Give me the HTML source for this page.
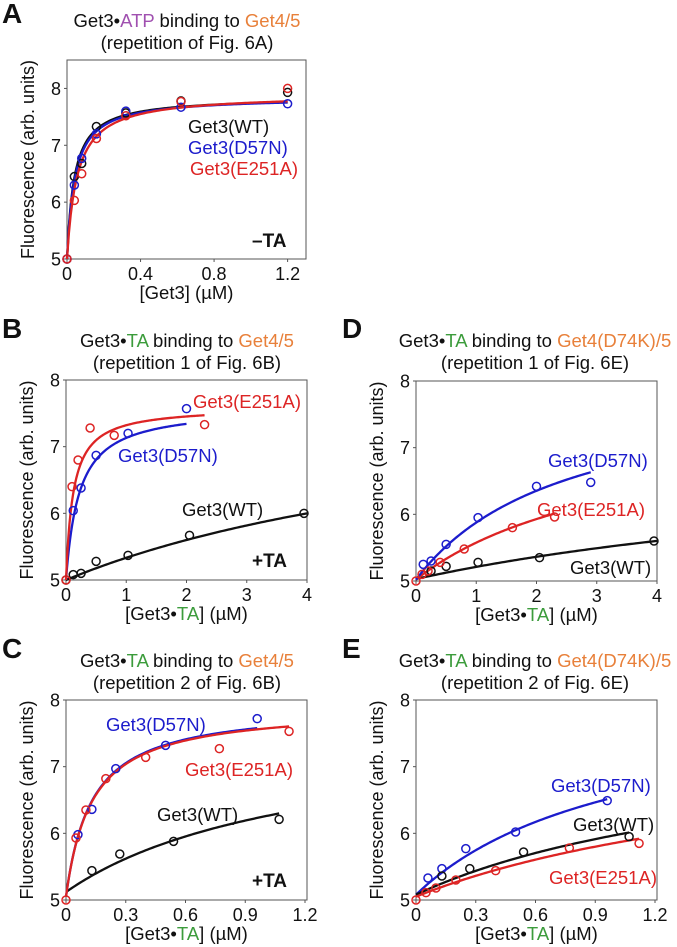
<!DOCTYPE html>
<html><head><meta charset="utf-8">
<style>
body{margin:0;background:#fff;}
svg{display:block;font-family:"Liberation Sans",Arial,sans-serif;}
</style></head>
<body>
<svg id="fig" width="677" height="947" viewBox="0 0 677 947"></svg>
<script>
// ---- Panel A data ----
const aX = [0, 0.04, 0.08, 0.16, 0.32, 0.62, 1.2];
const aWT = [5, 6.45, 6.68, 7.33, 7.57, 7.78, 7.93];
const aD57N = [5, 6.3, 6.77, 7.2, 7.6, 7.67, 7.73];
const aE251A = [5, 6.03, 6.5, 7.12, 7.52, 7.77, 8.0];
const aFitWT = [5, 2.85, 0.04, 1.2];     // F0, amplitude, Kd, xmax
const aFitD57N = [5, 2.85, 0.043, 1.2];
const aFitE251A = [5, 2.9, 0.055, 1.2];
// ---- Panel B data ----
const bXE = [0, 0.1, 0.2, 0.4, 0.8, 2.3];
const bE251A = [5, 6.4, 6.8, 7.28, 7.17, 7.33];
const bXD = [0.12, 0.25, 0.5, 1.03, 2.0];
const bD57N = [6.04, 6.38, 6.87, 7.2, 7.57];
const bXW = [0, 0.12, 0.25, 0.5, 1.03, 2.05, 3.95];
const bWT = [5, 5.08, 5.1, 5.28, 5.37, 5.67, 6.0];
const bFitE251A = [5, 2.6, 0.12, 2.3];
const bFitD57N = [5, 2.6, 0.22, 2.0];
const bFitWT = [5, 3, 8, 4];
// ---- Panel D data ----
const dXD = [0.12, 0.25, 0.5, 1.03, 2.0, 2.9];
const dD57N = [5.25, 5.3, 5.55, 5.95, 6.42, 6.48];
const dXE = [0, 0.1, 0.2, 0.4, 0.8, 1.6, 2.3];
const dE251A = [5, 5.1, 5.15, 5.28, 5.48, 5.8, 5.96];
const dXW = [0.25, 0.5, 1.03, 2.05, 3.95];
const dWT = [5.15, 5.22, 5.28, 5.35, 5.6];
const dFitD57N = [5.02, 3, 2.5, 2.9];
const dFitE251A = [5.02, 2.5, 3.5, 2.3];
const dFitWT = [5.03, 2, 10, 4];
// ---- Panel C data ----
const cXD = [0.06, 0.13, 0.25, 0.5, 0.96];
const cD57N = [5.98, 6.36, 6.97, 7.32, 7.72];
const cXE = [0, 0.05, 0.1, 0.2, 0.4, 0.77, 1.12];
const cE251A = [5, 5.93, 6.35, 6.82, 7.14, 7.27, 7.53];
const cXW = [0.13, 0.27, 0.54, 1.07];
const cWT = [5.44, 5.69, 5.88, 6.21];
const cFitD57N = [5.05, 2.87, 0.13, 0.96];
const cFitE251A = [5.05, 2.85, 0.13, 1.12];
const cFitWT = [5.12, 2.5, 1.2, 1.07];
// ---- Panel E data ----
const eXD = [0.06, 0.13, 0.25, 0.5, 0.96];
const eD57N = [5.33, 5.47, 5.77, 6.02, 6.49];
const eXW = [0.13, 0.27, 0.54, 1.07];
const eWT = [5.36, 5.47, 5.72, 5.95];
const eXE = [0, 0.05, 0.1, 0.2, 0.4, 0.77, 1.12];
const eE251A = [5, 5.11, 5.18, 5.3, 5.44, 5.78, 5.85];
const eFitD57N = [5.08, 3, 1.05, 0.96];
const eFitWT = [5.08, 2.5, 1.8, 1.07];
const eFitE251A = [5.05, 2.5, 2.1, 1.12];
// ticks
const ticksA = ["0", "0.4", "0.8", "1.2"];
const ticksB = ["0", "1", "2", "3", "4"];
const ticksC = ["0", "0.3", "0.6", "0.9", "1.2"];
const ticksY = ["5", "6", "7", "8"];

const NS = "http://www.w3.org/2000/svg";
const svg = document.getElementById('fig');
const BLK = "#111", BLU = "#1c1ccc", RED = "#dd2424", ORG = "#e8803a", PUR = "#a050b0", GRN = "#3c9c3c";

function mk(tag, attrs, parent) {
  const e = document.createElementNS(NS, tag);
  for (const k in attrs) e.setAttribute(k, attrs[k]);
  (parent || svg).appendChild(e);
  return e;
}
function txt(x, y, parts, size, anchor, name, weight, parent) {
  const t = mk('text', {x: x, y: y, 'font-size': size, 'text-anchor': anchor || 'start', 'font-weight': weight || 'normal'}, parent);
  
  
  parts.forEach(p => {
    const s = mk('tspan', {fill: p[1]}, t);
    s.textContent = p[0];
  });
  return t;
}

function panel(o) {
  const g = mk('g', {});
  
  
  const L = o.l, T = o.t, R = o.r, B = o.b;
  const sx = v => L + (v - o.x0) / (o.x1 - o.x0) * (R - L);
  const sy = v => B - (v - o.y0) / (o.y1 - o.y0) * (B - T);
  const fr = mk('rect', {x: L, y: T, width: R - L, height: B - T, fill: 'none', stroke: '#555', 'stroke-width': 1}, g);
  
  
  ticksY.forEach(tk => {
    const v = parseFloat(tk);
    const yy = sy(v);
    mk('line', {x1: L - 3, x2: L, y1: yy, y2: yy, stroke: '#555'}, g);
    txt(L - 6, yy + 6.5, [[tk, BLK]], 18, 'end', 'y-tick-label', 'normal', g);
  });
  o.xt.forEach(tk => {
    const v = parseFloat(tk);
    const xx = sx(v);
    mk('line', {x1: xx, x2: xx, y1: B, y2: B + 3, stroke: '#555'}, g);
    txt(xx, B + 21, [[tk, BLK]], 18, 'middle', 'x-tick-label', 'normal', g);
  });
  o.series.forEach(s => {
    const f = s.fit;
    let d = "";
    for (let i = 0; i <= 120; i++) {
      const x = f[3] * i / 120;
      const y = f[0] + f[1] * x / (f[2] + x);
      d += (i ? "L" : "M") + sx(x).toFixed(2) + "," + sy(y).toFixed(2);
    }
    const p = mk('path', {d: d, fill: 'none', stroke: s.c, 'stroke-width': 2.3}, g);
    
    
  });
  o.series.forEach(s => {
    s.x.forEach((xv, i) => {
      const c = mk('circle', {cx: sx(xv), cy: sy(s.y[i]), r: 4, fill: 'none', stroke: s.c, 'stroke-width': 1.5}, g);
      
      
    });
  });
  o.labels.forEach(lb => txt(lb[0], lb[1], [[lb[2], lb[3]]], lb[5] || 18.5, 'start', lb[4], lb[6] || 'normal', g));
  const cx = o.tc;
  txt(o.lx, o.ly, [[o.id, BLK]], 28, 'start', 'panel-letter', 'bold', g);
  txt(cx, o.t1, o.title1, 18.5, 'middle', 'panel-title', 'normal', g);
  txt(cx, o.t1 + 22, [[o.title2, BLK]], 18.5, 'middle', 'panel-subtitle', 'normal', g);
  const yt = txt(0, 0, [["Fluorescence (arb. units)", BLK]], 18, 'middle', 'y-axis-title', 'normal', g);
  yt.setAttribute('transform', 'translate(' + (L - 33) + ',' + ((T + B) / 2) + ') rotate(-90)');
  txt((L + R) / 2, B + 40, o.xtitle, 18.5, 'middle', 'x-axis-title', 'normal', g);
}

const xtTA = [["[Get3•", BLK], ["TA", GRN], ["] (µM)", BLK]];

panel({id: 'A', l: 67, t: 60, r: 306, b: 259, x0: 0, x1: 1.3, y0: 5, y1: 8.5, xt: ticksA,
  lx: 2, ly: 23, tc: 187, t1: 27, title1: [["Get3•", BLK], ["ATP", PUR], [" binding to ", BLK], ["Get4/5", ORG]],
  title2: "(repetition of Fig. 6A)", xtitle: [["[Get3] (µM)", BLK]],
  series: [
    {n: 'wt', c: BLK, x: aX, y: aWT, fit: aFitWT},
    {n: 'd57n', c: BLU, x: aX, y: aD57N, fit: aFitD57N},
    {n: 'e251a', c: RED, x: aX, y: aE251A, fit: aFitE251A}],
  labels: [[188, 133, "Get3(WT)", BLK, 'legend-wt'], [188, 154, "Get3(D57N)", BLU, 'legend-d57n'],
    [190, 175, "Get3(E251A)", RED, 'legend-e251a'], [252, 247, "–TA", BLK, 'condition-label', 19, 'bold']]});

panel({id: 'B', l: 66, t: 380, r: 307, b: 580, x0: 0, x1: 4, y0: 5, y1: 8, xt: ticksB,
  lx: 2, ly: 338, tc: 187, t1: 347, title1: [["Get3•", BLK], ["TA", GRN], [" binding to ", BLK], ["Get4/5", ORG]],
  title2: "(repetition 1 of Fig. 6B)", xtitle: xtTA,
  series: [
    {n: 'wt', c: BLK, x: bXW, y: bWT, fit: bFitWT},
    {n: 'd57n', c: BLU, x: bXD, y: bD57N, fit: bFitD57N},
    {n: 'e251a', c: RED, x: bXE, y: bE251A, fit: bFitE251A}],
  labels: [[193, 408, "Get3(E251A)", RED, 'label-e251a'], [118, 462, "Get3(D57N)", BLU, 'label-d57n'],
    [182, 516, "Get3(WT)", BLK, 'label-wt'], [252, 567, "+TA", BLK, 'condition-label', 19, 'bold']]});

panel({id: 'D', l: 416, t: 381, r: 657, b: 581, x0: 0, x1: 4, y0: 5, y1: 8, xt: ticksB,
  lx: 342, ly: 338, tc: 535, t1: 347, title1: [["Get3•", BLK], ["TA", GRN], [" binding to ", BLK], ["Get4(D74K)/5", ORG]],
  title2: "(repetition 1 of Fig. 6E)", xtitle: xtTA,
  series: [
    {n: 'wt', c: BLK, x: dXW, y: dWT, fit: dFitWT},
    {n: 'e251a', c: RED, x: dXE, y: dE251A, fit: dFitE251A},
    {n: 'd57n', c: BLU, x: dXD, y: dD57N, fit: dFitD57N}],
  labels: [[548, 467, "Get3(D57N)", BLU, 'label-d57n'], [537, 516, "Get3(E251A)", RED, 'label-e251a'],
    [570, 574, "Get3(WT)", BLK, 'label-wt']]});

panel({id: 'C', l: 66, t: 700, r: 307, b: 900, x0: 0, x1: 1.21, y0: 5, y1: 8, xt: ticksC,
  lx: 2, ly: 658, tc: 187, t1: 667, title1: [["Get3•", BLK], ["TA", GRN], [" binding to ", BLK], ["Get4/5", ORG]],
  title2: "(repetition 2 of Fig. 6B)", xtitle: xtTA,
  series: [
    {n: 'wt', c: BLK, x: cXW, y: cWT, fit: cFitWT},
    {n: 'd57n', c: BLU, x: cXD, y: cD57N, fit: cFitD57N},
    {n: 'e251a', c: RED, x: cXE, y: cE251A, fit: cFitE251A}],
  labels: [[106, 731, "Get3(D57N)", BLU, 'label-d57n'], [185, 776, "Get3(E251A)", RED, 'label-e251a'],
    [157, 821, "Get3(WT)", BLK, 'label-wt'], [252, 887, "+TA", BLK, 'condition-label', 19, 'bold']]});

panel({id: 'E', l: 416, t: 700, r: 657, b: 900, x0: 0, x1: 1.21, y0: 5, y1: 8, xt: ticksC,
  lx: 342, ly: 658, tc: 535, t1: 667, title1: [["Get3•", BLK], ["TA", GRN], [" binding to ", BLK], ["Get4(D74K)/5", ORG]],
  title2: "(repetition 2 of Fig. 6E)", xtitle: xtTA,
  series: [
    {n: 'd57n', c: BLU, x: eXD, y: eD57N, fit: eFitD57N},
    {n: 'wt', c: BLK, x: eXW, y: eWT, fit: eFitWT},
    {n: 'e251a', c: RED, x: eXE, y: eE251A, fit: eFitE251A}],
  labels: [[551, 792, "Get3(D57N)", BLU, 'label-d57n'], [573, 831, "Get3(WT)", BLK, 'label-wt'],
    [549, 884, "Get3(E251A)", RED, 'label-e251a']]});
</script>
</body></html>
